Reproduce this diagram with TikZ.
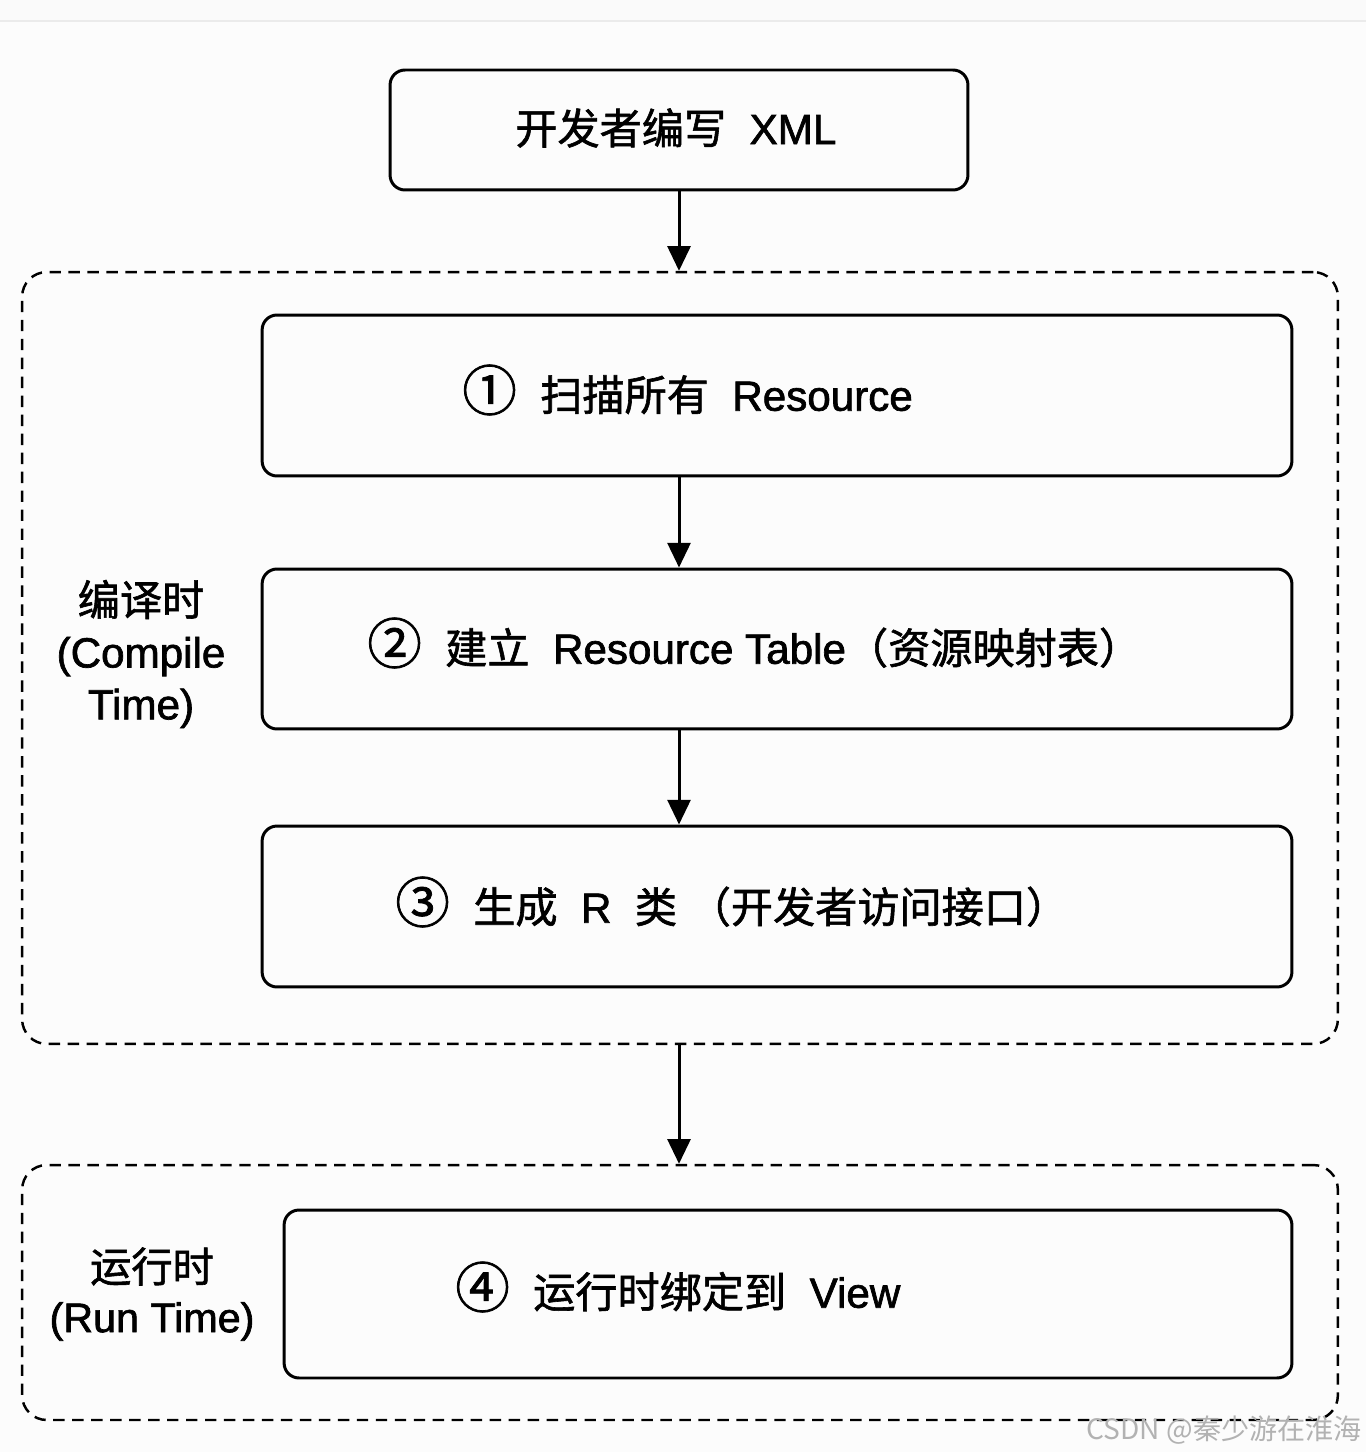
\documentclass[tikz,border=0pt]{standalone}
\usepackage{fontspec}
\setmainfont{Liberation Sans}[FakeBold=1.6]
\newfontfamily\cjk{Noto Sans CJK SC}[FakeBold=1.4]
\newfontfamily\cjklight{Noto Sans CJK SC}
\newcommand\zh[1]{{\cjk #1}}
\newcommand\circnum[1]{{\cjk\fontsize{31}{28}\selectfont #1}}
\usetikzlibrary{positioning, arrows.meta}

\begin{document}
\begin{tikzpicture}[
x=0.02cm, y=-0.02cm,
block/.style={
	rectangle,
	draw,
	line width=1.7pt,
	rounded corners=8.5pt,
	minimum width=20.6cm,
	minimum height=3.22cm
},
phase/.style={
	rectangle,
	draw,
	dashed,
	dash pattern=on 6.5pt off 4.3pt,
	line width=1.4pt,
	rounded corners=14pt,
	minimum width=26.32cm
},
txt/.style={
	inner sep=0pt,
	anchor=west,
	font=\fontsize{24}{28}\selectfont
},
side/.style={
	inner sep=0pt,
	align=center,
	font=\fontsize{24}{29.5}\selectfont
},
line/.style={
	draw, line width=1.7pt, -{Triangle[length=14pt,width=13pt]}
}
]

\useasboundingbox[fill=white!98!black] (0,0) rectangle (1366,1452);
\fill[white!99!black] (0,21) rectangle (1366,1452);
\draw[black!8, line width=1pt] (0,21) -- (1366,21);

% Nodes
\node[block, minimum width=11.56cm, minimum height=2.4cm] (xml) at (679,130) {};
\node[txt] (xmltext) at (515,128) {\zh{开发者编写}\ \ XML};

\node[phase, minimum height=15.44cm] (compile) at (680,658) {};
\node[side] (compiletext) at (141,654) {\zh{编译时}\\(Compile\\Time)};

\node[block] (scan) at (777,395.5) {};
\node[txt] (scantext) at (462,390) {\circnum{①}\ \ \zh{扫描所有}\ \ Resource};

\node[block, minimum height=3.2cm] (table) at (777,649) {};
\node[txt] (tabletext) at (367,643) {\circnum{②}\ \ \zh{建立}\ \ Resource Table\zh{（资源映射表）}};

\node[block] (gen) at (777,906.5) {};
\node[txt] (gentext) at (395,902) {\circnum{③}\ \ \zh{生成}\ \ R\ \ \zh{类}\ \zh{（开发者访问接口）}};

\node[phase, minimum height=5.1cm] (run) at (680,1292.5) {};
\node[side, font=\fontsize{23.5}{28.5}\selectfont] (runtext) at (152,1294) {\zh{运行时}\\(Run Time)};

\node[block, minimum width=20.16cm, minimum height=3.36cm] (bind) at (788,1294) {};
\node[txt] (bindtext) at (455,1287) {\circnum{④}\ \ \zh{运行时绑定到}\ \ View};

\node[inner sep=0pt, anchor=east, text=black!30, font=\cjklight\fontsize{16}{18}\selectfont] (mark) at (1362,1430) {CSDN @秦少游在淮海};

% Lines
\draw[line] (xml) -- (compile.north -| xml.south);
\draw[line] (scan.south -| xml.south) -- (table.north -| xml.south);
\draw[line] (table.south -| xml.south) -- (gen.north -| xml.south);
\draw[line] (compile.south -| xml.south) -- (run.north -| xml.south);

\end{tikzpicture}
\end{document}
